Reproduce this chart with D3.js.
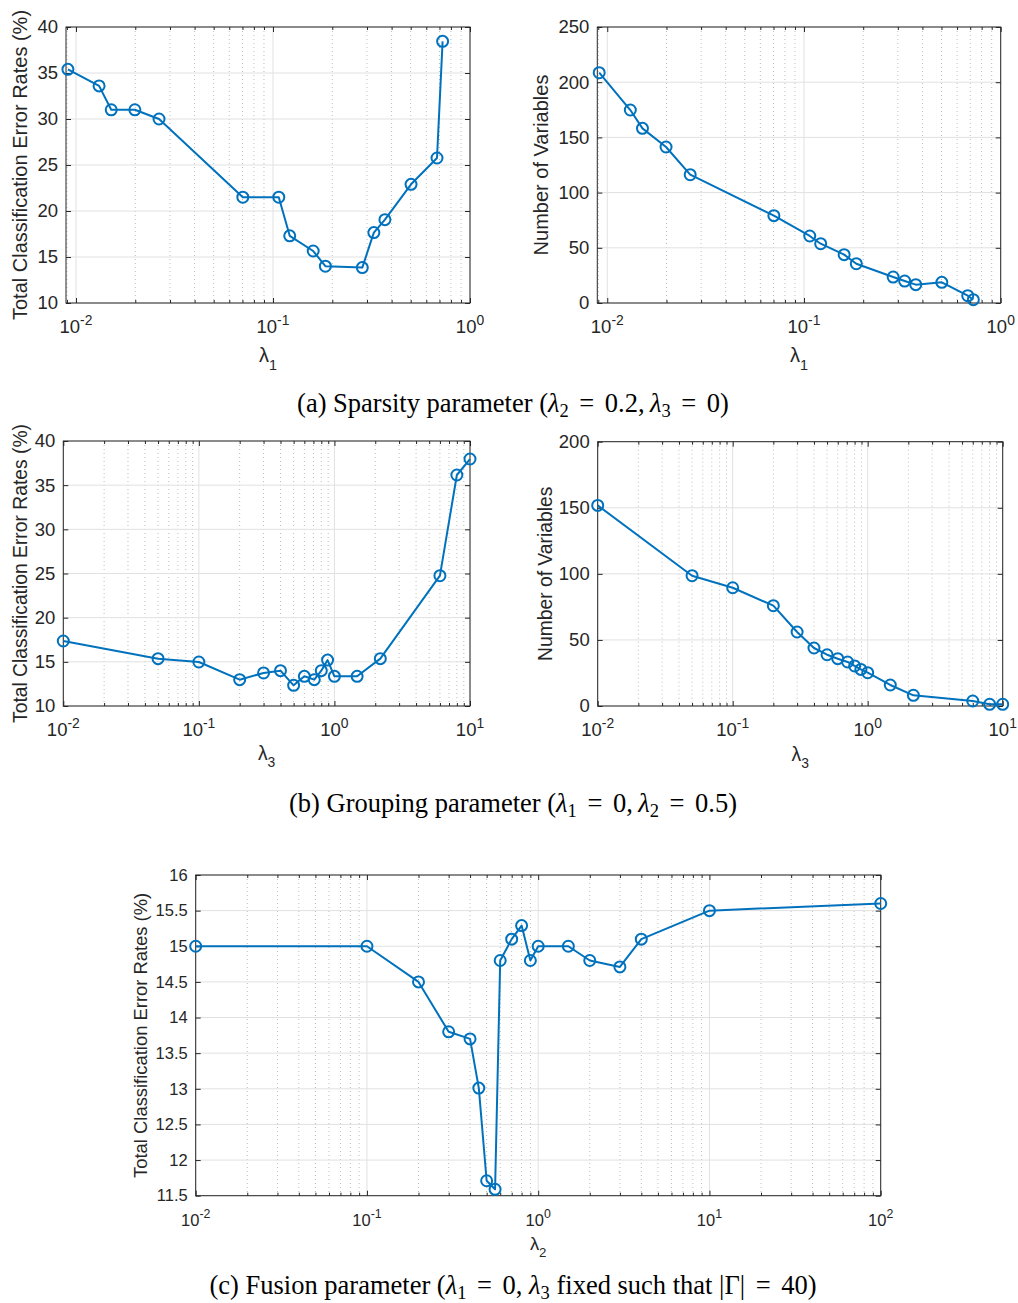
<!DOCTYPE html>
<html><head><meta charset="utf-8">
<script src="https://cdn.jsdelivr.net/npm/d3@7"></script>
<style>body{margin:0;background:#fff}</style>
</head><body>
<svg id="chart" width="1018" height="1303" xmlns="http://www.w3.org/2000/svg"></svg>
<script>
// ---- data ----
const lambda1 = [0.0091, 0.0131, 0.0151, 0.0199, 0.0264, 0.0703, 0.107, 0.1216, 0.16, 0.1845, 0.284, 0.325, 0.37, 0.502, 0.68, 0.726];
const errorSparsity = [35.4, 33.6, 31.0, 31.0, 30.0, 21.5, 21.5, 17.3, 15.65, 14.0, 13.85, 17.65, 19.06, 22.9, 25.76, 38.44];
const varsSparsity = [208.6, 174.8, 158.2, 141.3, 116.2, 79.1, 60.7, 53.7, 43.8, 35.6, 23.5, 19.9, 16.6, 18.7, 6.6, 3.0];

const lambda3 = [0.01, 0.05, 0.1, 0.2, 0.3, 0.4, 0.5, 0.6, 0.71, 0.8, 0.89, 1.0, 1.47, 2.18, 6.0, 8.0, 10.0];
const errorGrouping = [17.36, 15.36, 14.98, 12.98, 13.74, 14.0, 12.34, 13.36, 12.98, 14.0, 15.2, 13.36, 13.36, 15.36, 24.75, 36.15, 37.96];
const varsGrouping = [151.8, 98.6, 89.5, 75.9, 56.0, 43.9, 38.8, 35.8, 33.3, 30.3, 27.7, 25.2, 15.9, 8.1, 3.8, 1.3, 1.3];

const lambda2 = [0.01, 0.1, 0.2, 0.3, 0.4, 0.45, 0.5, 0.56, 0.6, 0.7, 0.8, 0.9, 1.0, 1.5, 2.0, 3.0, 4.0, 10.0, 100.0];
const errorFusion = [15.0, 15.0, 14.5, 13.8, 13.7, 13.01, 11.71, 11.59, 14.8, 15.1, 15.29, 14.8, 15.0, 15.0, 14.8, 14.71, 15.1, 15.5, 15.6];

const yTicksError = [10, 15, 20, 25, 30, 35, 40];
const yTicksVarsA = [0, 50, 100, 150, 200, 250];
const yTicksVarsB = [0, 50, 100, 150, 200];
const yTicksFusion = [11.5, 12, 12.5, 13, 13.5, 14, 14.5, 15, 15.5, 16];
const xExpA = [-2, -1, 0];
const xExpB = [-2, -1, 0, 1];
const xExpC = [-2, -1, 0, 1, 2];

const yLabelError = "Total Classification Error Rates (%)";
const yLabelVars = "Number of Variables";

// ---- drawing ----
const svg = d3.select("#chart");
const BLUE = "#0072BD", AX = "#262626";
const SANS = "'Liberation Sans', Arial, Helvetica, sans-serif";
const SERIF = "'Liberation Serif', 'Times New Roman', serif";

function panel(o) {
  const g = svg.append("g");
  const x = d3.scaleLog().domain(o.xDomain).range([o.x0, o.x1]);
  const y = d3.scaleLinear().domain(o.yDomain).range([o.y1, o.y0]);
  const lo = Math.floor(Math.log10(o.xDomain[0])), hi = Math.ceil(Math.log10(o.xDomain[1]));
  const majors = [], minors = [];
  for (let d = lo; d <= hi; d++) {
    const m = Math.pow(10, d);
    if (m >= o.xDomain[0] * 0.999 && m <= o.xDomain[1] * 1.001) majors.push(m);
    for (let k = 2; k <= 9; k++) {
      const v = k * m;
      if (v > o.xDomain[0] && v < o.xDomain[1]) minors.push(v);
    }
  }
  // grid
  g.append("g").selectAll("line").data(minors).join("line")
    .attr("x1", d => x(d)).attr("x2", d => x(d)).attr("y1", o.y0).attr("y2", o.y1)
    .attr("stroke", "#bcbcbc").attr("stroke-width", 1).attr("stroke-dasharray", "1,3");
  g.append("g").selectAll("line").data(majors).join("line")
    .attr("x1", d => x(d)).attr("x2", d => x(d)).attr("y1", o.y0).attr("y2", o.y1)
    .attr("stroke", "#e1e1e1").attr("stroke-width", 1);
  g.append("g").selectAll("line").data(o.yTicks).join("line")
    .attr("x1", o.x0).attr("x2", o.x1).attr("y1", d => y(d)).attr("y2", d => y(d))
    .attr("stroke", "#e1e1e1").attr("stroke-width", 1);

  // axes (ticks inward)
  const axStyle = sel => {
    sel.select(".domain").remove();
    sel.selectAll("line").attr("stroke", AX);
    sel.selectAll("text").attr("fill", AX).attr("font-family", SANS).attr("font-size", o.tickSize);
  };
  g.append("g").attr("transform", `translate(0,${o.y1})`)
    .call(d3.axisBottom(x).tickValues(majors).tickSize(-5).tickFormat("")).call(axStyle);
  g.append("g").attr("transform", `translate(0,${o.y1})`)
    .call(d3.axisBottom(x).tickValues(minors).tickSize(-3).tickFormat("")).call(axStyle);
  g.append("g").attr("transform", `translate(0,${o.y0})`)
    .call(d3.axisTop(x).tickValues(majors).tickSize(-5).tickFormat("")).call(axStyle);
  g.append("g").attr("transform", `translate(0,${o.y0})`)
    .call(d3.axisTop(x).tickValues(minors).tickSize(-3).tickFormat("")).call(axStyle);
  g.append("g").attr("transform", `translate(${o.x0},0)`)
    .call(d3.axisLeft(y).tickValues(o.yTicks).tickSize(-5).tickPadding(8).tickFormat(d3.format("~g"))).call(axStyle);
  g.append("g").attr("transform", `translate(${o.x1},0)`)
    .call(d3.axisRight(y).tickValues(o.yTicks).tickSize(-5).tickFormat("")).call(axStyle);
  g.append("rect").attr("x", o.x0).attr("y", o.y0).attr("width", o.x1 - o.x0).attr("height", o.y1 - o.y0)
    .attr("fill", "none").attr("stroke", AX).attr("stroke-width", 1);

  // x tick labels 10^e
  const xl = g.append("g").selectAll("text").data(o.xExps).join("text")
    .attr("x", e => x(Math.pow(10, e))).attr("y", o.y1 + 30)
    .attr("text-anchor", "middle").attr("font-family", SANS).attr("font-size", o.tickSize).attr("fill", AX);
  xl.append("tspan").text("10");
  xl.append("tspan").attr("dy", -o.tickSize * 0.45).attr("font-size", o.tickSize * 0.75).text(e => String(e));

  // data
  const pts = o.xs.map((v, i) => [v, o.ys[i]]);
  g.append("path").datum(pts)
    .attr("d", d3.line().x(d => x(d[0])).y(d => y(d[1])))
    .attr("fill", "none").attr("stroke", BLUE).attr("stroke-width", 2).attr("stroke-linejoin", "round");
  g.append("g").selectAll("circle").data(pts).join("circle")
    .attr("cx", d => x(d[0])).attr("cy", d => y(d[1])).attr("r", 5.5)
    .attr("fill", "none").attr("stroke", BLUE).attr("stroke-width", 2);

  // y label
  g.append("text").attr("transform", `translate(${o.yLabelX},${(o.y0 + o.y1) / 2}) rotate(-90)`)
    .attr("text-anchor", "middle").attr("font-family", SANS).attr("font-size", o.labelSize).attr("fill", AX)
    .text(o.yLabel);
  // x label
  const xt = g.append("text").attr("x", (o.x0 + o.x1) / 2).attr("y", o.xLabelY)
    .attr("text-anchor", "middle").attr("font-family", SANS).attr("font-size", o.labelSize).attr("fill", AX);
  xt.append("tspan").text("λ");
  xt.append("tspan").attr("dy", o.labelSize * 0.38).attr("font-size", o.labelSize * 0.72).text(o.xSub);
}

panel({x0: 66, x1: 470, y0: 27, y1: 303, xDomain: [0.0089, 1], yDomain: [10, 40],
  xs: lambda1, ys: errorSparsity, yTicks: yTicksError, xExps: xExpA, xSub: "1",
  yLabel: yLabelError, tickSize: 18.5, labelSize: 20, yLabelX: 27, xLabelY: 362});
panel({x0: 597.3, x1: 1000.7, y0: 27, y1: 303, xDomain: [0.0089, 1], yDomain: [0, 250],
  xs: lambda1, ys: varsSparsity, yTicks: yTicksVarsA, xExps: xExpA, xSub: "1",
  yLabel: yLabelVars, tickSize: 18.5, labelSize: 20, yLabelX: 548, xLabelY: 362});
panel({x0: 63.3, x1: 470, y0: 441, y1: 706, xDomain: [0.01, 10], yDomain: [10, 40],
  xs: lambda3, ys: errorGrouping, yTicks: yTicksError, xExps: xExpB, xSub: "3",
  yLabel: yLabelError, tickSize: 18.5, labelSize: 19.3, yLabelX: 27, xLabelY: 760});
panel({x0: 597.7, x1: 1002.7, y0: 441.7, y1: 706, xDomain: [0.01, 10], yDomain: [0, 200],
  xs: lambda3, ys: varsGrouping, yTicks: yTicksVarsB, xExps: xExpB, xSub: "3",
  yLabel: yLabelVars, tickSize: 18.5, labelSize: 19.3, yLabelX: 551.5, xLabelY: 761});
panel({x0: 195.7, x1: 880.7, y0: 875, y1: 1195.7, xDomain: [0.01, 100], yDomain: [11.5, 16],
  xs: lambda2, ys: errorFusion, yTicks: yTicksFusion, xExps: xExpC, xSub: "2",
  yLabel: yLabelError, tickSize: 16.5, labelSize: 18.4, yLabelX: 147, xLabelY: 1250});

// captions
const EQ = "\u2009\u2009=\u2009\u2009";
function caption(yb, segs) {
  const t = svg.append("text").attr("x", 513).attr("y", yb).attr("text-anchor", "middle")
    .attr("font-family", SERIF).attr("font-size", 26.5).attr("fill", "#000");
  let shifted = 0;
  segs.forEach(s => {
    const ts = t.append("tspan").text(s.t);
    let target = s.sub ? 5 : 0;
    if (target !== shifted) { ts.attr("dy", target - shifted); shifted = target; }
    if (s.it) ts.attr("font-style", "italic");
    if (s.sub) ts.attr("font-size", 18.5);
  });
}
caption(412, [{t: "(a) Sparsity parameter ("}, {t: "λ", it: 1}, {t: "2", sub: 1}, {t: EQ + "0.2,\u2009"},
  {t: "λ", it: 1}, {t: "3", sub: 1}, {t: EQ + "0)"}]);
caption(812, [{t: "(b) Grouping parameter ("}, {t: "λ", it: 1}, {t: "1", sub: 1}, {t: EQ + "0,\u2009"},
  {t: "λ", it: 1}, {t: "2", sub: 1}, {t: EQ + "0.5)"}]);
caption(1294, [{t: "(c) Fusion parameter ("}, {t: "λ", it: 1}, {t: "1", sub: 1}, {t: EQ + "0, "},
  {t: "λ", it: 1}, {t: "3", sub: 1}, {t: " fixed such that |Γ|" + EQ + "40)"}]);
</script>
</body></html>
